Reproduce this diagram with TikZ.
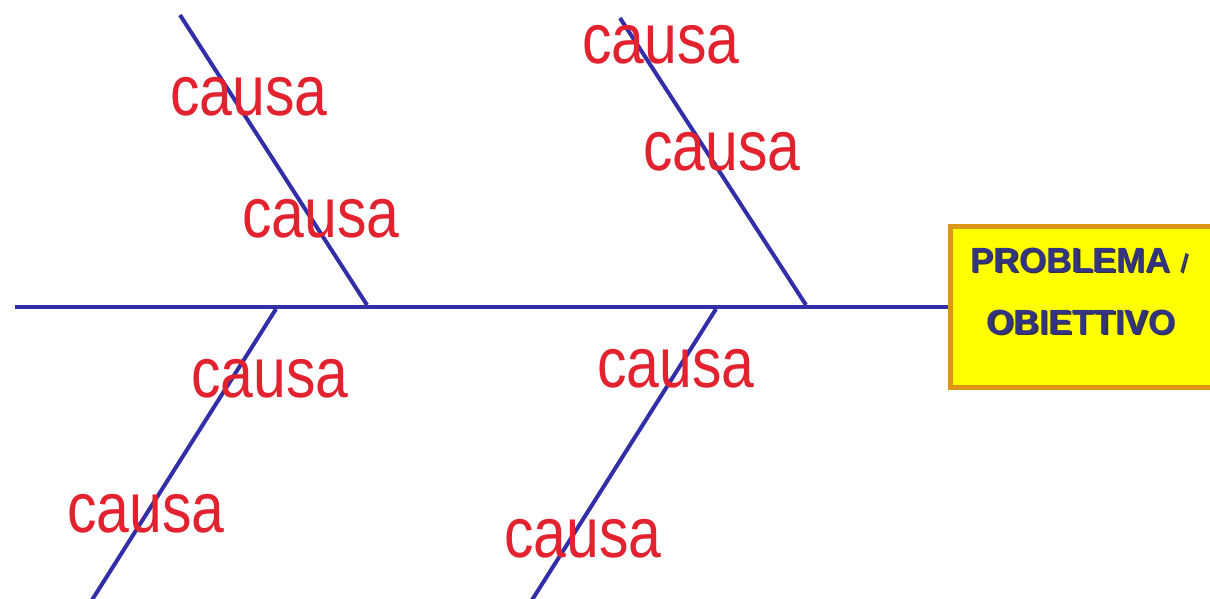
\documentclass[tikz,border=0pt]{standalone}
\usepackage{fontspec}
\setmainfont{Liberation Sans}
\usetikzlibrary{positioning,calc}
\definecolor{boneblue}{RGB}{50,46,168}
\definecolor{causered}{RGB}{226,34,46}
\definecolor{goalyellow}{RGB}{255,255,0}
\definecolor{goalframe}{RGB}{222,150,24}
\definecolor{goalink}{RGB}{52,52,132}
\newcommand{\causa}{\scalebox{0.83}[1]{causa}}

\begin{document}
\begin{tikzpicture}[x=1pt, y=-1pt,
    bone/.style={line width=4pt, boneblue},
    cause/.style={causered, inner sep=0pt, font=\fontsize{71}{71}\selectfont},
    goallabel/.style={goalink, inner sep=0pt, font=\bfseries\fontsize{35}{35}\selectfont},
    goalshadow/.style={goallabel, black!80}]
  \useasboundingbox (0,0) rectangle (1210,598);
  % problem box, cut by the right edge
  \node[draw=goalframe, line width=5pt, fill=goalyellow, anchor=north west,
        minimum width=272pt, minimum height=161pt] (goal) at (948,224) {};
  \node[goalshadow] at (1080.5,261.5) {PROBLEMA {\mdseries\fontsize{26}{26}\selectfont /}};
  \node[goallabel] (problema) at (1079,260) {PROBLEMA {\mdseries\fontsize{26}{26}\selectfont /}};
  \node[goalshadow] at (1082.5,323.5) {OBIETTIVO};
  \node[goallabel] (obiettivo) at (1081,322) {OBIETTIVO};
  % spine
  \coordinate (tail) at (15,307);
  \draw[bone] (tail) -- (goal.west |- tail);
  % bones
  \coordinate (ul top) at (180,15);   \coordinate (ul foot) at (367,305);
  \coordinate (ur top) at (620,18);   \coordinate (ur foot) at (806,305);
  \coordinate (ll foot) at (276,309); \coordinate (ll end) at (92,600);
  \coordinate (lr foot) at (716,309); \coordinate (lr end) at (532,600);
  \draw[bone] (ul top) -- (ul foot);
  \draw[bone] (ur top) -- (ur foot);
  \draw[bone] (ll foot) -- (ll end);
  \draw[bone] (lr foot) -- (lr end);
  % causes
  \node[cause] (c1) at (249,97)  {\causa};
  \node[cause] (c2) at (321,219) {\causa};
  \node[cause] (c3) at (661,45)  {\causa};
  \node[cause] (c4) at (722,152) {\causa};
  \node[cause] (c5) at (270,379) {\causa};
  \node[cause] (c6) at (146,514) {\causa};
  \node[cause] (c7) at (676,369) {\causa};
  \node[cause] (c8) at (583,539) {\causa};
\end{tikzpicture}
\end{document}
